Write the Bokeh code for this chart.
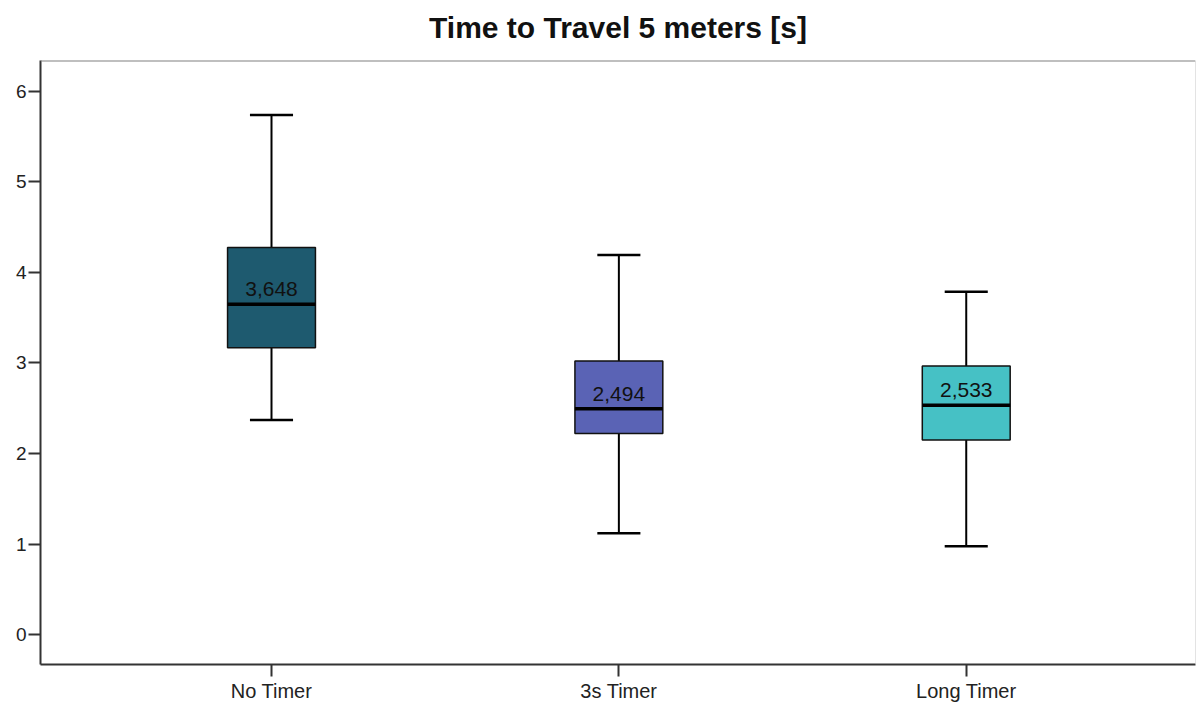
from bokeh.plotting import figure
from bokeh.models import ColumnDataSource, FixedTicker, Range1d, Span, Title
from bokeh.embed import file_html
from bokeh.resources import INLINE
from bokeh.core.properties import value

categories = ["No Timer", "3s Timer", "Long Timer"]
whisker_low = [2.37, 1.12, 0.975]
q1 = [3.168, 2.222, 2.150]
median = [3.648, 2.494, 2.533]
q3 = [4.275, 3.021, 2.966]
whisker_high = [5.737, 4.192, 3.786]
median_labels = ["3,648", "2,494", "2,533"]
colors = ["#1e5a6f", "#5a63b5", "#46c1c5"]
title_text = "Time to Travel 5 meters [s]"

FONT = "Liberation Sans"
xs = list(range(len(categories)))
box_w = 0.253
cap_w = 0.124
X0, X1 = -0.665, 2.66
Y0, Y1 = -0.33, 6.34

src = ColumnDataSource(dict(
    x=xs, lo=whisker_low, q1=q1, med=median, q3=q3, hi=whisker_high,
    lab=median_labels, color=colors,
    cl=[x - cap_w / 2 for x in xs], cr=[x + cap_w / 2 for x in xs],
    bl=[x - box_w / 2 for x in xs], br=[x + box_w / 2 for x in xs],
))

p = figure(width=1196, height=704, output_backend="svg", toolbar_location=None,
           x_range=Range1d(X0, X1), y_range=Range1d(Y0, Y1),
           min_border_left=40, min_border_right=1, min_border_top=58, min_border_bottom=38)
p.title = Title(text=" ", text_font_size="1px", standoff=0)
p.add_layout(Title(text=" ", text_font_size="9px", standoff=0), "above")
p.add_layout(Title(text=title_text, align="center", text_font=FONT, text_font_size="30px",
                   text_font_style="bold", text_color="#111111", offset=-12), "above")
p.xgrid.visible = False
p.ygrid.visible = False
p.outline_line_color = None
p.background_fill_color = "white"
p.border_fill_color = "white"

# frame lines (top and right)
p.add_layout(Span(location=Y1, dimension="width", line_color="#808080", line_width=2))
p.add_layout(Span(location=X1, dimension="height", line_color="#c8c8c8", line_width=1))

# whiskers
p.segment(x0="x", y0="q3", x1="x", y1="hi", source=src, line_color="black", line_width=2)
p.segment(x0="x", y0="lo", x1="x", y1="q1", source=src, line_color="black", line_width=2)
p.segment(x0="cl", y0="hi", x1="cr", y1="hi", source=src, line_color="black", line_width=2.5)
p.segment(x0="cl", y0="lo", x1="cr", y1="lo", source=src, line_color="black", line_width=2.5)
# boxes
p.vbar(x="x", width=box_w, bottom="q1", top="q3", source=src, fill_color="color",
       line_color="#111111", line_width=1.5)
# median
p.segment(x0="bl", y0="med", x1="br", y1="med", source=src, line_color="black", line_width=3.5)
p.text(x="x", y="med", text="lab", source=src, text_align="center", text_baseline="bottom",
       y_offset=-8, text_font=value(FONT), text_font_size="21px", text_color="#111111")

# axes
p.yaxis.ticker = FixedTicker(ticks=[0, 1, 2, 3, 4, 5, 6])
p.xaxis.ticker = FixedTicker(ticks=xs)
p.xaxis.major_label_overrides = {i: c for i, c in enumerate(categories)}
for ax in (p.xaxis[0], p.yaxis[0]):
    ax.axis_line_color = "#333333"
    ax.axis_line_width = 2
    ax.major_tick_line_color = "#333333"
    ax.major_tick_line_width = 2
    ax.major_tick_out = 12
    ax.major_tick_in = 0
    ax.minor_tick_line_color = None
    ax.major_label_text_font = FONT
    ax.major_label_text_color = "#222222"
p.xaxis.major_label_text_font_size = "20px"
p.yaxis.major_label_text_font_size = "19px"
p.yaxis.major_label_standoff = 2
p.xaxis.major_label_standoff = 3

open("out.html", "w").write(file_html(p, INLINE))
